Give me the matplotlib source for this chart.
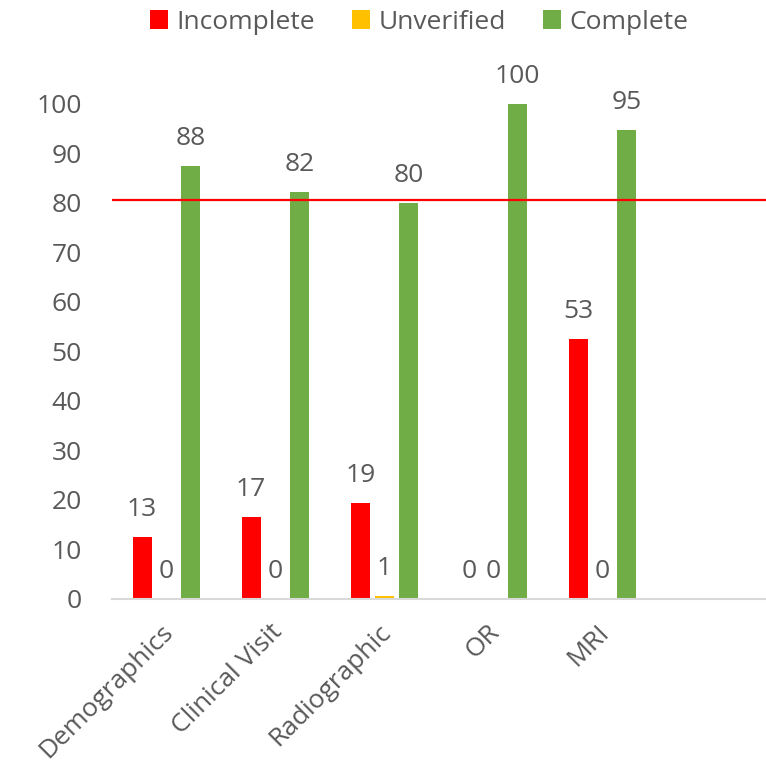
#!/usr/bin/env python3
"""Data completeness by form, grouped bars with the 80% target line."""

import matplotlib
matplotlib.use("Agg")
import matplotlib.pyplot as plt
import matplotlib.transforms as mtransforms
import numpy as np

categories = ["Demographics", "Clinical Visit", "Radiographic", "OR", "MRI"]
incomplete = [12.5, 16.6, 19.4, 0.0, 52.6]
unverified = [0.0, 0.0, 0.6, 0.0, 0.0]
complete = [87.5, 82.3, 80.0, 100.0, 94.7]
target = 80.6
n_slots = 6  # one empty slot on the right, as in the source sheet

RED = "#FF0000"
YELLOW = "#FFC000"
GREEN = "#70AD47"
TEXT = "#595959"
FS = 19

plt.rcParams["font.family"] = ["Open Sans", "DejaVu Sans"]


def label_bars(ax, bars, values):
    for bar, value in zip(bars, values):
        ax.annotate(
            f"{int(np.floor(value + 0.5))}",
            (bar.get_x() + bar.get_width() / 2, bar.get_height()),
            xytext=(0, 15), textcoords="offset points",
            ha="center", va="baseline", fontsize=FS, color=TEXT,
            annotation_clip=False,
        )


def main() -> None:
    fig = plt.figure(figsize=(7.66, 7.68), dpi=100)
    ax = fig.add_axes([0.1458, 0.2201, 0.8542, 0.6445])

    x = np.arange(len(categories))
    width = 0.173
    offset = 0.221
    series = [
        ("Incomplete", incomplete, RED, -offset),
        ("Unverified", unverified, YELLOW, 0.0),
        ("Complete", complete, GREEN, offset),
    ]
    for name, values, color, shift in series:
        bars = ax.bar(x + shift, values, width, color=color, label=name, zorder=2)
        label_bars(ax, bars, values)

    ax.axhline(target, color=RED, linewidth=1.6, zorder=3)

    ax.set_xlim(-0.5, n_slots - 0.5)
    ax.set_ylim(0, 100)
    ax.set_yticks(np.arange(0, 101, 10))
    ax.set_xticks(x)
    ax.set_xticklabels(categories, rotation=45, ha="right", rotation_mode="anchor")
    ax.tick_params(axis="both", length=0, labelsize=FS, labelcolor=TEXT)
    ax.tick_params(axis="y", pad=21.5)
    ax.tick_params(axis="x", pad=15)
    shift_left = mtransforms.ScaledTranslation(-6 / 100, 0, fig.dpi_scale_trans)
    for lab in ax.get_xticklabels():
        lab.set_transform(lab.get_transform() + shift_left)

    for side in ("top", "right", "left"):
        ax.spines[side].set_visible(False)
    ax.spines["bottom"].set_color("#D9D9D9")
    ax.spines["bottom"].set_linewidth(1.5)

    fig.legend(
        loc="center", bbox_to_anchor=(0.547, 0.971), ncol=3, frameon=False,
        fontsize=FS, labelcolor=TEXT, handlelength=0.68, handleheight=0.68,
        handletextpad=0.32, columnspacing=1.4, borderpad=0,
    )

    fig.savefig("out.png", dpi=100)
    plt.close(fig)


if __name__ == "__main__":
    main()
